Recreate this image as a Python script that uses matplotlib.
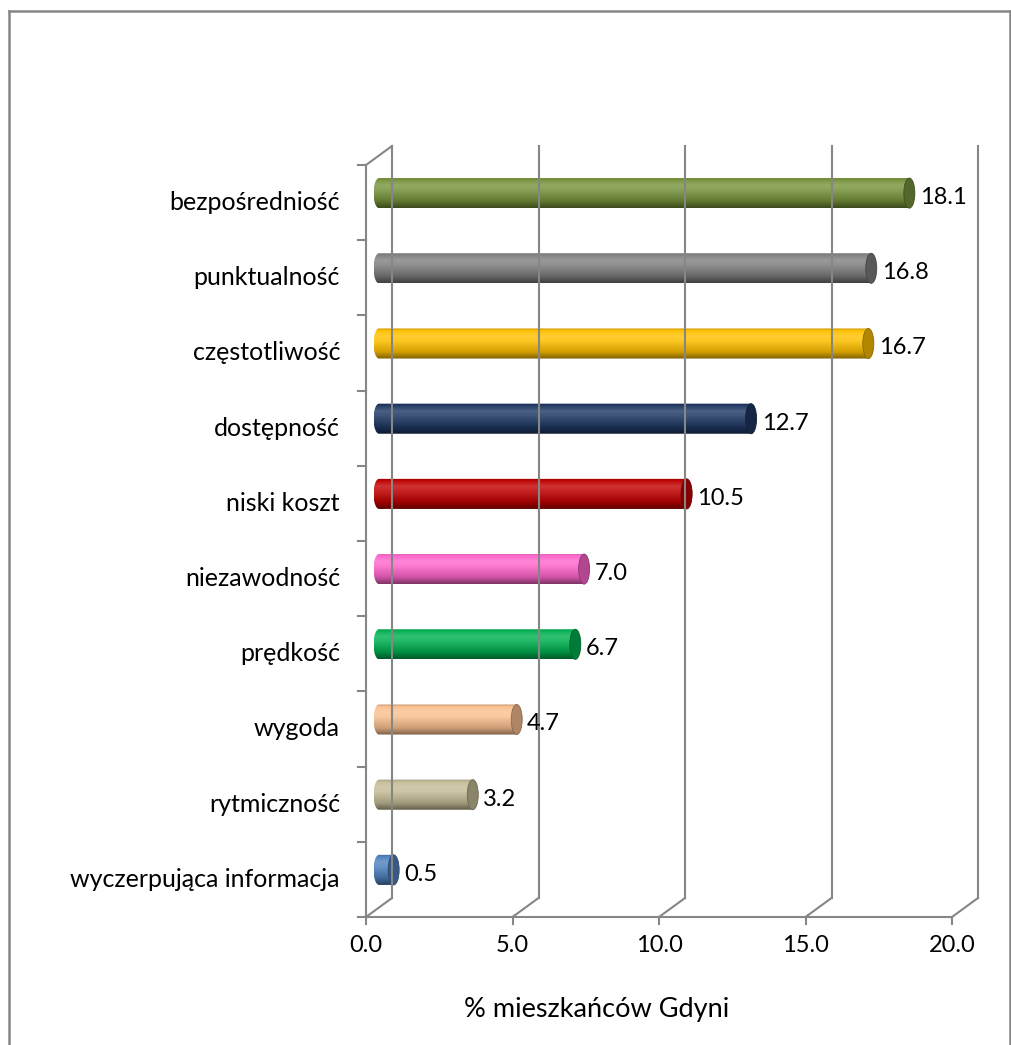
import numpy as np
import matplotlib.pyplot as plt
from matplotlib.patches import Polygon, Ellipse
from matplotlib.lines import Line2D
from matplotlib.colors import to_rgb, LinearSegmentedColormap

plt.rcParams['font.family'] = ['Lato', 'DejaVu Sans']

# data (bottom to top)
categories = ['wyczerpująca informacja', 'rytmiczność', 'wygoda', 'prędkość',
              'niezawodność', 'niski koszt', 'dostępność', 'częstotliwość',
              'punktualność', 'bezpośredniość']
values = [0.5, 3.2, 4.7, 6.7, 7.0, 10.5, 12.7, 16.7, 16.8, 18.1]
colors = ['#4F81BD', '#C4BD97', '#FAC090', '#00B050', '#FF66CC',
          '#C00000', '#1F3864', '#FFC000', '#7F7F7F', '#77933C']
xticks = [0, 5, 10, 15, 20]
xlabel = '% mieszkańców Gdyni'

W, H = 1012, 1045
fig = plt.figure(figsize=(W / 100, H / 100), dpi=100)

# front plane of the 3d box in pixels
px0, px1 = 366, 952
py_top, py_bot = 165, 917
ax = fig.add_axes([px0 / W, 1 - py_bot / H, (px1 - px0) / W, (py_bot - py_top) / H])
ax.set_axis_off()

n = len(categories)
ylo, yhi = -0.5, n - 0.5
ux = (px1 - px0) / 20.0
uy = (py_bot - py_top) / n
dx = 26 / ux   # depth offset
dy = 19 / uy

grid = '#868686'
lw = 1.5

# back wall gridlines
for v in xticks:
    ax.add_line(Line2D([v + dx, v + dx], [ylo + dy, yhi + dy], color=grid, lw=lw, clip_on=False))
    # floor diagonals
    ax.add_line(Line2D([v, v + dx], [ylo, ylo + dy], color=grid, lw=lw, clip_on=False))
    # ticks below
    ax.add_line(Line2D([v, v], [ylo, ylo - 7 / uy], color=grid, lw=lw, clip_on=False))
    ax.text(v, ylo - 29 / uy, f'{v:.1f}', ha='center', va='center', fontsize=17)

# left wall
ax.add_line(Line2D([0, 0], [ylo, yhi], color=grid, lw=lw, clip_on=False))
ax.add_line(Line2D([0, dx], [yhi, yhi + dy], color=grid, lw=lw, clip_on=False))
ax.add_line(Line2D([0, 20], [ylo, ylo], color=grid, lw=lw, clip_on=False))
for k in range(n + 1):
    ax.add_line(Line2D([0, -8 / ux], [ylo + k, ylo + k], color=grid, lw=lw, clip_on=False))


def shade(c, f):
    c = np.array(to_rgb(c))
    if f < 0:
        return tuple(c * (1 + f))
    return tuple(c + (1 - c) * f)


a = 5.5 / ux    # cap half-width
b = 0.2         # cylinder radius
t = np.linspace(np.pi / 2, 3 * np.pi / 2, 30)
for i, (v, c) in enumerate(zip(values, colors)):
    xc0 = dx / 2
    xc1 = v + dx / 2
    yc = i + dy / 2
    pts = np.column_stack([xc0 + a * np.cos(t), yc + b * np.sin(t)])
    pts = np.vstack([pts, [[xc1, yc - b], [xc1, yc + b]]])
    body = Polygon(pts, closed=True, transform=ax.transData, facecolor='none', edgecolor='none')
    ax.add_patch(body)
    cmap = LinearSegmentedColormap.from_list(
        'cyl', [(0.0, shade(c, -0.5)), (0.22, shade(c, -0.18)), (0.6, shade(c, 0.14)),
                (0.75, shade(c, 0.2)), (0.92, shade(c, 0.02)), (1.0, shade(c, -0.2))])
    grad = np.linspace(0, 1, 64).reshape(-1, 1)
    im = ax.imshow(grad, cmap=cmap, origin='lower', aspect='auto',
                   extent=[xc0 - a, xc1 + a, yc - b, yc + b], interpolation='bilinear')
    im.set_clip_path(body)
    ax.add_patch(Ellipse((xc1, yc), 2 * a, 2 * b, facecolor=shade(c, -0.3),
                         edgecolor=shade(c, -0.45), lw=0.6))
    ax.text(xc1 + a + 5 / ux, i + 5 / uy, f'{v:.1f}', ha='left', va='center', fontsize=17)
    ax.text(-26 / ux, i, categories[i], ha='right', va='center', fontsize=18)

ax.set_xlim(0, 20)
ax.set_ylim(ylo, yhi)

fig.text(597 / W, 1 - 1010 / H, xlabel, ha='center', va='center', fontsize=19.5)

# chart area border (bottom edge is cut off)
bc = '#868686'
fig.add_artist(Line2D([9 / W, 9 / W], [0, 1 - 11 / H], color=bc, lw=1.8))
fig.add_artist(Line2D([9 / W, 1010 / W], [1 - 11 / H, 1 - 11 / H], color=bc, lw=1.8))
fig.add_artist(Line2D([1010 / W, 1010 / W], [0, 1 - 11 / H], color=bc, lw=1.8))

fig.savefig('out.png', dpi=100)
